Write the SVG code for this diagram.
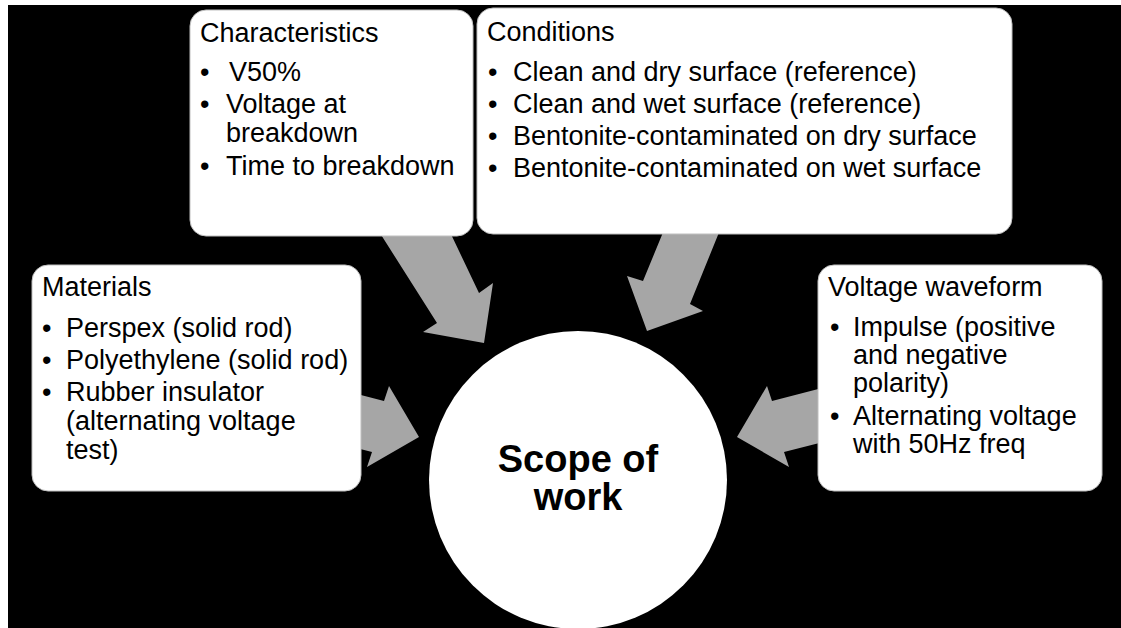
<svg xmlns="http://www.w3.org/2000/svg" width="1121" height="628" viewBox="0 0 1121 628">
<style>
.box{fill:#fff;stroke:#bfbfbf;stroke-width:1}
.t{font-family:"Liberation Sans",Arial,sans-serif;font-size:27px;fill:#000}
.big{font-family:"Liberation Sans",Arial,sans-serif;font-size:38px;font-weight:bold;fill:#000;text-anchor:middle}
.arr{fill:#a6a6a6}
</style>
<rect x="0" y="0" width="1121" height="628" fill="#fff"/>
<rect x="8" y="5" width="1113" height="623" fill="#000"/>
<g id="connectors">
<polygon class="arr" points="378,230 437,323 423,332 484,343 493,283 479,293 449,230"/>
<polygon class="arr" points="664,230 720,230 690,304 703,311 647,331 627,276 643,281"/>
<polygon class="arr" points="330,387 384,401 389,386 419,437 367,467 372,452 317,438"/>
<polygon class="arr" points="826,387 772,401 767,386 737,437 789,467 784,452 839,438"/>
</g>
<g id="characteristics">
<rect class="box" x="190" y="10" width="283" height="226" rx="16"/>
<text class="t" x="200" y="42">Characteristics</text>
<text class="t" x="200" y="81">•</text><text class="t" x="229" y="81">V50%</text>
<text class="t" x="200" y="113">•</text><text class="t" x="226" y="113">Voltage at</text>
<text class="t" x="226" y="142">breakdown</text>
<text class="t" x="200" y="175">•</text><text class="t" x="226" y="175">Time to breakdown</text>
</g>
<g id="conditions">
<rect class="box" x="477" y="8" width="535" height="226" rx="16"/>
<text class="t" x="487" y="41">Conditions</text>
<text class="t" x="488" y="81">•</text><text class="t" x="513" y="81">Clean and dry surface (reference)</text>
<text class="t" x="488" y="113">•</text><text class="t" x="513" y="113">Clean and wet surface (reference)</text>
<text class="t" x="488" y="145">•</text><text class="t" x="513" y="145">Bentonite-contaminated on dry surface</text>
<text class="t" x="488" y="177">•</text><text class="t" x="513" y="177">Bentonite-contaminated on wet surface</text>
</g>
<g id="materials">
<rect class="box" x="32" y="265" width="329" height="226" rx="16"/>
<text class="t" x="42" y="296">Materials</text>
<text class="t" x="42" y="337">•</text><text class="t" x="66" y="337">Perspex (solid rod)</text>
<text class="t" x="42" y="369">•</text><text class="t" x="66" y="369">Polyethylene (solid rod)</text>
<text class="t" x="42" y="401">•</text><text class="t" x="66" y="401">Rubber insulator</text>
<text class="t" x="66" y="430">(alternating voltage</text>
<text class="t" x="66" y="459">test)</text>
</g>
<g id="waveform">
<rect class="box" x="818" y="265" width="284" height="226" rx="16"/>
<text class="t" x="828" y="296">Voltage waveform</text>
<text class="t" x="830" y="336">•</text><text class="t" x="853" y="336">Impulse (positive</text>
<text class="t" x="853" y="364">and negative</text>
<text class="t" x="853" y="392">polarity)</text>
<text class="t" x="830" y="425">•</text><text class="t" x="853" y="425">Alternating voltage</text>
<text class="t" x="853" y="453">with 50Hz freq</text>
</g>
<g id="scope">
<circle cx="578" cy="480" r="149" fill="#fff"/>
<text class="big" x="578" y="472">Scope of</text>
<text class="big" x="578" y="510">work</text>
</g>
</svg>
